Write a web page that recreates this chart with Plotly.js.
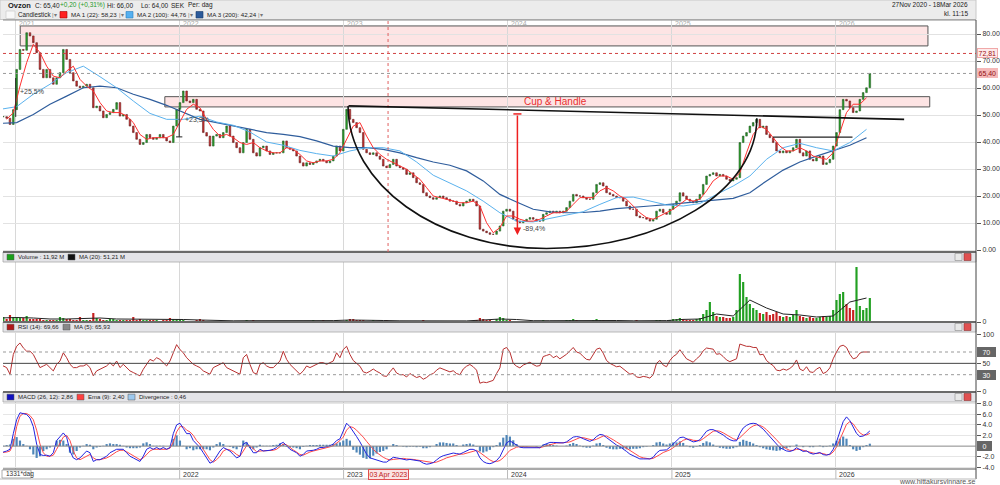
<!DOCTYPE html>
<html><head><meta charset="utf-8">
<script src="https://cdn.plot.ly/plotly-3.0.1.min.js"></script>
<style>html,body{margin:0;padding:0;background:#fff;}#chart{width:1000px;height:485px;}</style>
</head><body><div id="chart"></div>
<script>
// ---------------- DATA ----------------
const START_DATE = '2020-11-27';   // first sample
const STEP_DAYS = 7.42;            // sampling step of the reading grid
// weekly closes, samples 1..261
const closes = [49.4,48.8,46.5,52.0,66.9,74.3,74.0,80.5,79.3,76.8,73.1,66.9,63.8,66.9,63.8,61.4,63.8,65.7,74.3,70.6,65.7,62.6,60.7,60.1,60.7,61.4,60.1,52.7,53.3,51.5,49.0,50.2,50.9,52.1,54.6,49.6,50.2,48.4,45.9,43.5,41.0,39.1,39.8,42.8,41.6,41.0,41.6,42.8,41.6,40.4,39.8,45.9,52.1,54.6,58.9,55.2,54.6,55.8,52.1,51.5,43.5,42.2,38.5,42.2,42.8,41.6,43.5,45.9,42.2,39.8,37.9,36.0,39.8,44.7,41.0,36.0,34.8,37.9,38.5,36.7,35.4,36.0,36.0,36.0,40.4,37.9,37.3,36.7,34.8,32.3,31.1,32.3,31.7,32.3,33.0,33.6,33.0,32.3,33.0,34.8,38.5,36.7,44.7,52.1,48.4,47.2,45.3,43.5,37.3,36.0,35.4,36.0,34.8,33.6,31.1,30.5,31.7,33.6,31.1,30.5,29.9,28.0,28.6,26.8,24.9,24.3,21.2,20.0,19.4,18.8,19.4,20.0,
19.4,18.8,18.1,18.1,16.9,16.3,17.5,18.1,18.8,18.1,16.3,7.7,7.0,6.4,5.8,5.8,7.0,8.9,14.4,15.1,14.4,11.4,10.7,10.1,10.7,11.4,12.0,11.4,10.7,10.7,13.2,13.8,14.4,13.8,14.4,13.8,14.4,15.7,18.1,20.6,20.0,20.0,19.4,18.8,18.8,21.2,24.3,24.9,23.7,21.2,20.6,20.0,19.4,19.4,18.1,16.3,15.1,15.1,12.6,12.0,12.0,11.4,10.7,11.4,14.4,15.1,13.8,13.2,15.1,16.9,18.1,21.2,20.0,18.8,18.1,17.5,18.8,20.6,24.3,27.4,28.0,28.6,27.4,28.0,27.4,26.2,25.6,26.2,26.8,39.8,42.2,43.5,45.9,47.2,48.4,45.3,45.9,42.8,41.6,39.8,36.7,36.0,36.7,36.0,36.7,37.9,41.0,36.0,34.8,36.7,33.6,33.0,34.2,34.8,31.7,32.3,33.6,38.5,43.5,52.0,55.8,55.2,52.7,50.9,51.5,55.8,58.3,60.1,65.4];
// MA 1 (22) samples 2,4,...,260
const ma1 = [48.4,50.9,60.7,69.4,76.2,73.1,68.1,64.4,63.8,66.3,68.1,63.2,60.7,58.9,54.6,51.5,50.9,50.9,49.6,47.2,42.8,41.0,41.6,41.6,41.6,42.8,47.2,52.1,54.0,52.7,48.4,44.7,42.2,42.8,41.6,39.8,39.1,39.8,37.9,36.7,36.0,36.0,37.9,37.3,35.4,33.0,32.3,33.0,33.0,33.6,36.0,41.0,45.9,47.2,42.2,37.9,35.4,33.6,32.3,31.1,29.9,28.0,26.2,23.1,20.0,19.4,
18.8,18.1,17.5,17.5,18.1,16.3,10.1,6.4,8.3,12.6,12.6,11.4,10.7,10.7,11.4,12.6,13.8,13.8,14.4,16.9,19.4,19.4,19.4,21.9,23.1,21.9,20.0,18.8,16.3,13.8,12.0,11.4,12.6,13.8,15.1,16.9,18.8,18.1,18.8,21.9,25.6,27.4,27.4,26.2,28.6,36.0,42.8,45.9,44.7,41.6,38.5,36.7,36.7,37.9,36.7,34.8,34.2,33.6,36.0,43.5,50.9,54.0,54.0,56.4];
// MA 2 (100) and MA 3 (200), samples 0,5,...,260
const ma2 = [52.1,53.1,57.7,61.4,65.7,68.1,64.2,60.1,55.2,50.6,48.4,48.4,49.6,47.4,46.2,43.7,40.0,38.8,36.9,35.7,34.8,36.7,37.9,37.9,36.7,32.6,27.7,24.9,21.9,18.1,13.8,10.7,10.4,11.7,13.0,14.2,16.9,19.4,19.6,18.1,16.7,16.3,17.2,20.6,23.7,27.4,33.6,37.9,39.5,37.9,36.7,39.8,44.7];
const ma3 = [46.9,47.2,50.2,54.0,57.0,60.1,60.7,60.1,57.7,55.8,53.6,50.9,48.4,47.2,45.9,44.7,43.5,42.8,42.0,40.4,38.5,37.9,37.9,37.3,36.0,34.2,32.6,31.4,29.3,25.6,20.6,17.8,15.1,14.1,13.8,13.9,14.4,15.3,15.9,16.3,16.8,17.4,17.9,18.5,19.1,21.2,25.6,29.6,32.6,34.8,36.7,38.8,41.6];
// volume (M), samples 1..261
const volume = [5,3,7,5,5,4,4,6,3,3,3,3,2,2,2,2,2,5,4,3,3,2,2,5,2,2,2,9,4,3,2,2,3,3,2,2,2,2,2,5,2,3,2,2,2,2,2,1,2,2,4,3,3,2,2,1,1,1,2,3,2,1,1,1,1,1,1,1,1,1,1,1,1,2,1,2,1,1,1,1,1,1,1,1,1,1,1,1,1,1,1,1,1,2,1,1,2,1,1,1,2,1,1,2,3,
3,2,2,2,1,1,2,1,1,1,2,1,1,1,1,1,1,1,1,1,1,2,1,1,1,1,1,1,1,1,1,1,1,1,1,1,1,2,4,3,2,2,1,3,5,4,2,2,1,1,1,1,1,1,1,1,1,2,1,1,1,1,1,1,2,2,3,2,1,1,1,1,2,3,2,2,1,1,1,1,1,1,1,1,1,2,1,1,1,1,1,2,2,1,1,2,3,3,4,3,2,2,2,3,4,8,12,20,10,6,5,5,4,4,5,12,48,40,25,18,14,12,9,8,10,7,8,10,6,5,6,5,7,12,6,5,4,5,4,4,5,6,5,6,12,22,28,30,18,14,12,55,16,12,14,24];
// volume MA (20), samples 0,5,...,260
const volumeMA = [4,4.5,4,3,3,3.5,4,3,3,2.5,2.5,2.5,2,1.5,1.2,1.3,1.2,1.2,1.2,1.3,1.4,2,2,1.5,1.2,1.1,1.1,1.1,1.1,2,3,2.5,1.3,1.3,1.4,1.8,2,1.5,1.2,1.2,1.4,2.6,3,8,6,22,14,8,7,5,6,20,24];
// RSI (14), samples 0..261
const rsi = [48.3,45.4,42.5,30.9,65.7,80.1,85.9,77.2,71.4,71.4,65.7,54.1,42.5,45.4,48.3,42.5,36.7,48.3,54.1,68.6,59.9,48.3,42.5,42.5,45.4,45.4,48.3,42.5,28.0,36.7,39.6,42.5,45.4,51.2,45.4,54.1,42.5,48.3,42.5,36.7,33.8,30.9,28.0,39.6,48.3,57.0,54.1,59.9,57.0,51.2,45.4,54.1,68.6,83.0,74.3,68.6,59.9,54.1,48.3,45.4,42.5,36.7,33.8,30.9,42.5,45.4,48.3,51.2,42.5,39.6,36.7,33.8,30.9,59.9,65.7,48.3,33.8,30.9,48.3,51.2,45.4,42.5,42.5,48.3,54.1,71.4,57.0,48.3,42.5,36.7,30.9,36.7,45.4,42.5,45.4,48.3,51.2,51.2,48.3,51.2,54.1,68.6,59.9,74.3,80.1,65.7,
55,50,45,35,33,36,40,36,33,28,27,35,42,33,30,30,26,32,28,25,27,22,25,30,32,38,42,40,38,35,37,32,30,40,45,48,44,38,15,17,16,18,20,32,42,75,78,70,50,45,42,47,50,52,48,45,46,62,64,66,60,63,58,62,66,72,78,70,68,62,57,56,65,75,77,68,55,50,47,44,45,40,35,31,32,26,25,27,26,24,30,50,55,47,44,55,62,66,74,65,58,55,52,58,63,72,77,76,75,66,67,62,56,53,56,58,84,82,80,80,78,78,65,66,55,50,46,38,37,40,38,41,46,56,40,37,44,35,34,40,43,32,35,42,58,70,80,82,78,66,58,60,68,70,70,70];
// MACD (26,12), Ema (9), Divergence, samples 0..261
const macd = [-1.11,-1.11,-0.92,-0.59,2.35,4.97,6.27,6.14,5.95,5.29,3.66,0.39,-1.57,-1.76,-1.70,-1.90,-1.24,1.05,1.70,2.48,1.70,-0.92,-2.22,-2.55,-2.22,-1.57,-0.92,-1.24,-2.88,-2.55,-2.55,-2.22,-1.90,-1.24,-0.92,-0.59,-0.59,-0.59,-1.24,-1.90,-2.22,-2.55,-2.88,-1.90,-0.59,-0.26,-0.59,-0.26,-0.59,-0.26,-0.59,-0.26,2.35,3.99,4.31,3.33,2.35,2.35,1.05,0.39,-0.26,-1.24,-2.22,-3.20,-2.88,-1.90,-0.92,-0.26,-0.59,-0.92,-1.57,-2.22,-1.90,0.39,0.72,-0.26,-1.24,-1.24,-0.59,-0.92,-0.92,-0.78,-0.59,-0.26,0.39,0.72,0.07,-0.59,-0.92,-1.24,-1.90,-1.57,-0.92,-0.92,-0.78,-0.59,-0.26,-0.26,-0.13,0.07,0.39,1.05,1.37,3.01,4.31,3.66,
2.8,1.8,0.8,-0.5,-1.5,-2.2,-2.4,-2.6,-2.8,-3.0,-3.0,-2.6,-2.1,-2.2,-2.3,-2.4,-2.6,-2.5,-2.6,-2.8,-2.8,-3.2,-3.4,-3.3,-3.1,-2.6,-2.1,-1.8,-1.6,-1.5,-1.3,-1.4,-1.5,-1.2,-0.9,-0.6,-0.6,-0.9,-2.2,-2.9,-3.2,-3.3,-3.1,-2.7,-2.0,-0.6,0.6,1.0,0.6,0.2,-0.2,-0.3,-0.3,-0.2,-0.2,-0.3,-0.3,0.2,0.5,0.7,0.7,0.7,0.6,0.6,0.8,1.2,1.7,1.8,1.7,1.4,1.1,0.9,1.2,1.8,2.2,2.1,1.6,1.1,0.6,0.2,-0.1,-0.5,-1.0,-1.5,-1.8,-2.2,-2.4,-2.4,-2.4,-2.4,-2.1,-1.3,-0.8,-0.7,-0.7,-0.2,0.4,0.9,1.6,1.7,1.4,1.1,0.8,0.9,1.2,2.0,2.8,3.1,3.1,2.8,2.5,2.1,1.6,1.2,1.0,1.0,2.4,3.4,3.9,4.2,4.3,4.2,3.7,3.2,2.5,1.8,1.1,0.3,-0.3,-0.6,-0.9,-1.0,-0.8,-0.3,-0.6,-1.0,-0.9,-1.3,-1.5,-1.4,-1.2,-1.6,-1.7,-1.5,-0.6,0.8,2.6,4.6,5.5,4.8,3.6,2.4,1.8,1.9,2.3,2.86];
const signal = [-1.24,-1.24,-1.11,-0.92,0.39,3.66,5.62,6.14,6.14,5.75,4.97,3.01,0.39,-1.24,-1.90,-1.90,-1.70,-0.59,0.72,1.70,2.03,1.05,-0.92,-2.22,-2.55,-2.22,-1.90,-1.57,-2.22,-2.55,-2.55,-2.42,-2.22,-1.90,-1.44,-1.05,-0.78,-0.78,-1.05,-1.44,-1.90,-2.22,-2.55,-2.22,-1.57,-0.92,-0.59,-0.59,-0.59,-0.46,-0.59,-0.39,0.72,2.68,3.66,3.66,3.01,2.68,2.03,1.05,0.39,-0.59,-1.57,-2.55,-3.01,-2.55,-1.90,-0.92,-0.59,-0.72,-1.05,-1.57,-1.90,-0.92,0.07,0.07,-0.59,-1.05,-0.92,-0.92,-0.92,-0.92,-0.78,-0.59,-0.13,0.39,0.26,-0.26,-0.72,-1.11,-1.57,-1.70,-1.37,-1.11,-0.92,-0.78,-0.59,-0.39,-0.26,-0.13,0.07,0.52,1.05,1.70,3.01,3.66,
3.5,3.0,2.4,1.7,0.9,0.1,-0.6,-1.2,-1.7,-2.1,-2.4,-2.6,-2.5,-2.4,-2.3,-2.3,-2.4,-2.4,-2.5,-2.6,-2.7,-2.8,-3.0,-3.1,-3.1,-3.0,-2.8,-2.5,-2.2,-2.0,-1.8,-1.6,-1.5,-1.5,-1.3,-1.1,-0.9,-0.8,-1.2,-1.7,-2.2,-2.6,-2.9,-2.9,-2.7,-2.2,-1.5,-0.8,-0.5,-0.2,-0.1,-0.1,-0.2,-0.2,-0.2,-0.2,-0.3,-0.1,0.1,0.3,0.5,0.6,0.6,0.6,0.7,0.8,1.1,1.4,1.6,1.6,1.4,1.2,1.1,1.3,1.6,1.9,1.9,1.6,1.2,0.8,0.4,0.0,-0.4,-0.9,-1.3,-1.7,-2.0,-2.2,-2.3,-2.4,-2.3,-2.0,-1.6,-1.2,-1.0,-0.7,-0.3,0.2,0.7,1.1,1.3,1.3,1.1,1.0,1.0,1.4,1.9,2.4,2.8,2.9,2.8,2.5,2.1,1.7,1.4,1.2,1.6,2.2,2.9,3.4,3.8,4.0,3.9,3.6,3.1,2.5,1.9,1.2,0.5,-0.1,-0.5,-0.8,-0.8,-0.6,-0.6,-0.8,-0.9,-1.1,-1.3,-1.4,-1.3,-1.4,-1.6,-1.6,-1.1,-0.2,1.2,2.8,4.1,4.6,4.2,3.3,2.5,2.1,2.1,2.40];
const divergence = [0.07,0.07,0.2,0.3,1.37,1.70,1.05,0.39,0.07,-0.59,-1.57,-2.22,-1.90,-0.92,-0.59,-0.26,0.07,1.05,1.18,1.05,0.39,-1.24,-1.57,-0.92,-0.26,0.07,0.39,0.26,-0.59,-0.26,-0.13,0.07,0.39,0.52,0.39,0.39,0.26,0.07,-0.26,-0.39,-0.39,-0.39,-0.26,0.52,0.72,0.39,0.07,0.07,0.07,0.07,0.0,0.07,1.37,2.03,1.05,0.07,-0.59,-0.39,-0.78,-0.59,-0.59,-0.59,-0.59,-0.78,-0.26,0.39,0.72,0.39,0.0,-0.13,-0.39,-0.59,-0.13,1.05,0.72,-0.39,-0.59,-0.26,0.26,0.07,0.07,0.07,0.2,0.26,0.52,0.39,-0.13,-0.26,-0.26,-0.39,-0.59,-0.13,0.07,0.2,0.2,0.2,0.26,0.26,0.26,0.26,0.39,0.52,0.72,1.05,1.37,1.05,
-0.7,-1.2,-1.6,-2.2,-2.4,-2.3,-1.8,-1.4,-1.1,-0.9,-0.6,0.0,0.4,0.2,0.0,-0.1,-0.2,-0.1,-0.1,-0.2,-0.1,-0.4,-0.4,-0.2,0.0,0.4,0.7,0.7,0.6,0.5,0.5,0.2,0.0,0.3,0.4,0.5,0.3,-0.1,-1.0,-1.2,-1.0,-0.7,-0.2,0.2,0.7,1.6,2.1,1.8,1.1,0.4,-0.1,-0.2,-0.1,0.0,0.0,-0.1,0.0,0.3,0.4,0.4,0.2,0.1,0.0,0.0,0.1,0.4,0.6,0.4,0.1,-0.2,-0.3,-0.3,0.1,0.5,0.6,0.2,-0.3,-0.5,-0.6,-0.6,-0.5,-0.5,-0.6,-0.6,-0.5,-0.5,-0.4,-0.2,-0.1,0.0,0.2,0.7,0.8,0.5,0.3,0.5,0.7,0.7,0.9,0.6,0.1,-0.2,-0.3,-0.1,0.2,0.6,0.9,0.7,0.3,-0.1,-0.3,-0.4,-0.5,-0.5,-0.4,-0.2,0.8,1.2,1.0,0.8,0.5,0.2,-0.2,-0.4,-0.6,-0.7,-0.8,-0.9,-0.8,-0.5,-0.4,-0.2,0.0,0.3,0.0,-0.2,0.0,-0.2,-0.2,0.0,0.1,-0.2,-0.1,0.1,0.5,1.0,1.4,1.8,1.4,0.2,-0.6,-0.9,-0.7,-0.2,0.2,0.46];
const yearLabels = ['2021','2022','2023','2024','2025','2026'];
const priceTicks = [0,10,20,30,40,50,60,70,80];

// ---------------- helpers ----------------
const FONT = 'Liberation Sans, Arial, sans-serif';
const DAY = 86400000;
const t0 = Date.parse(START_DATE + 'T00:00:00Z');
const sampleDate = g => new Date(t0 + g * STEP_DAYS * DAY).toISOString().slice(0, 19);
const L = 3, R = 976, T = 20, B = 469;
const px = v => (v - L) / (R - L);
const py = v => (B - v) / (B - T);

const cDates = closes.map((_, i) => sampleDate(i + 1));
const opens = closes.map((c, i) => i === 0 ? c : closes[i - 1]);
const highs = closes.map((c, i) => Math.max(c, opens[i]));
const lows = closes.map((c, i) => Math.min(c, opens[i]));

const traces = [
  {type:'candlestick', x:cDates, open:opens, high:highs, low:lows, close:closes, xaxis:'x', yaxis:'y',
   increasing:{line:{color:'#2f5f2f', width:0.6}, fillcolor:'#25a025'},
   decreasing:{line:{color:'#6a2a2a', width:0.6}, fillcolor:'#cc2a2a'}, whiskerwidth:0, hoverinfo:'skip'},
  {type:'scatter', mode:'lines', x:ma3.map((_, i) => sampleDate(5 * i)), y:ma3, line:{color:'#2f5d9c', width:1.2}, xaxis:'x', yaxis:'y', hoverinfo:'skip'},
  {type:'scatter', mode:'lines', x:ma2.map((_, i) => sampleDate(5 * i)), y:ma2, line:{color:'#5ab2ee', width:1}, xaxis:'x', yaxis:'y', hoverinfo:'skip'},
  {type:'scatter', mode:'lines', x:ma1.map((_, i) => sampleDate(2 + 2 * i)), y:ma1, line:{color:'#ff3030', width:1}, xaxis:'x', yaxis:'y', hoverinfo:'skip'},
  {type:'bar', x:volume.map((_, i) => sampleDate(i + 1)), y:volume,
   marker:{color:volume.map((_, i) => closes[i] >= opens[i] ? '#22a022' : '#c82020'), line:{width:0}},
   xaxis:'x', yaxis:'y2', hoverinfo:'skip'},
  {type:'scatter', mode:'lines', x:volumeMA.map((_, i) => sampleDate(5 * i)), y:volumeMA, line:{color:'#222', width:1}, xaxis:'x', yaxis:'y2', hoverinfo:'skip'},
  {type:'scatter', mode:'lines', x:rsi.map((_, i) => sampleDate(i)), y:rsi, line:{color:'#b83030', width:1}, xaxis:'x', yaxis:'y3', hoverinfo:'skip'},
  {type:'bar', x:divergence.map((_, i) => sampleDate(i)), y:divergence, marker:{color:'#4f86b8', line:{width:0}}, xaxis:'x', yaxis:'y4', hoverinfo:'skip'},
  {type:'scatter', mode:'lines', x:signal.map((_, i) => sampleDate(i)), y:signal, line:{color:'#ff4a4a', width:1}, xaxis:'x', yaxis:'y4', hoverinfo:'skip'},
  {type:'scatter', mode:'lines', x:macd.map((_, i) => sampleDate(i)), y:macd, line:{color:'#2323e0', width:1}, xaxis:'x', yaxis:'y4', hoverinfo:'skip'}
];

// ---------------- decorations ----------------
const shapes = [];
const ann = [];
function box(x0, y0, x1, y1, fill, lineColor, lw, layer) {
  shapes.push({type:'rect', xref:'paper', yref:'paper', x0:px(x0), x1:px(x1), y0:py(y0), y1:py(y1),
    fillcolor:fill, line:{color:lineColor || 'rgba(0,0,0,0)', width:lw === undefined ? 1 : lw}, layer:layer || 'above'});
}
function hline(x0, x1, y, color, w, dash) {
  shapes.push({type:'line', xref:'paper', yref:'paper', x0:px(x0), x1:px(x1), y0:py(y), y1:py(y), line:{color, width:w, dash:dash || 'solid'}});
}
function vline(x, y0, y1, color, w) {
  shapes.push({type:'line', xref:'paper', yref:'paper', x0:px(x), x1:px(x), y0:py(y0), y1:py(y1), line:{color, width:w}});
}
function txt(x, y, text, o) {
  const a = {xref:'paper', yref:'paper', x:px(x), y:py(y), text, showarrow:false, xanchor:'left', yanchor:'middle',
    font:{family:FONT, size:6.5, color:'#222'}};
  if (o) { if (o.font) a.font = Object.assign({}, a.font, o.font); Object.keys(o).forEach(k => { if (k !== 'font') a[k] = o[k]; }); }
  ann.push(a);
}

// top header
box(0, 0, 976, 19.5, '#ececec', '#c8c8c8', 1);
txt(6, 5.5, '<b>Ovzon</b>', {font:{size:7.5}});
txt(33, 5.5, 'C: 65,40');
txt(58, 5.5, '+0,20 (+0,31%)', {font:{color:'#1f9a1f'}});
txt(105, 5.5, 'Hi: 66,00');
txt(139, 5.5, 'Lo: 64,00');
txt(169, 5.5, 'SEK');
txt(186, 5.5, 'Per: dag');
txt(970, 5, '27Nov 2020 - 18Mar 2026', {xanchor:'right', font:{size:6.5}});
txt(970, 13.5, 'kl. 11:15', {xanchor:'right', font:{size:6.5}});
box(6, 11, 15, 18.5, '#f8f8f8', '#cfcfcf', 0.8);
txt(16, 15, 'Candlestick', {font:{size:6.3}});
box(60, 11.5, 67, 18, '#ff2020', '#aa0000', 0.6);
txt(69, 15, 'MA 1 (22): 58,23', {font:{size:6.2}});
box(126, 11.5, 133, 18, '#55b0f0', '#2a80c0', 0.6);
txt(135, 15, 'MA 2 (100): 44,76', {font:{size:6.2}});
box(196, 11.5, 203, 18, '#2c5a9a', '#1a3a6a', 0.6);
txt(205, 15, 'MA 3 (200): 42,24', {font:{size:6.2}});
[50, 116.5, 186, 256].forEach(x => txt(x, 15, '|▾', {font:{size:6, color:'#777'}}));

// panel header bars
function panelHeader(y0, items) {
  box(3, y0, 976, y0 + 10, '#e4e4e8', '#a8a8a8', 0.8);
  hline(3, 976, y0, '#6a6a6a', 2);
  items.forEach(it => {
    box(it.x, y0 + 2.2, it.x + 7, y0 + 8, it.c, '#555', 0.5);
    txt(it.x + 9, y0 + 5.2, it.t, {font:{size:6}});
  });
  box(955, y0 + 1.5, 962, y0 + 8.5, '#e8e8e8', '#8a8a8a', 0.6);
  box(964, y0 + 1.5, 971, y0 + 8.5, '#e05050', '#903030', 0.6);
}
panelHeader(252, [{x:7, c:'#1aa01a', t:'Volume : 11,92 M'}, {x:68, c:'#111', t:'MA (20): 51,21 M'}]);
panelHeader(322, [{x:7, c:'#b01818', t:'RSI (14): 69,66'}, {x:63, c:'#888', t:'MA (5): 65,93'}]);
panelHeader(392, [{x:7, c:'#1010c0', t:'MACD (26, 12): 2,86'}, {x:77, c:'#ff4040', t:'Ema (9): 2,40'}, {x:128, c:'#9cc8ee', t:'Divergence : 0,46'}]);

// frame lines
hline(3, 976, 20, '#8a8a8a', 1);
vline(976, 20, 479, '#444', 1);
hline(3, 976, 469, '#555', 1);
hline(0, 976, 479, '#bbb', 1);

// bottom axis row
box(2, 470, 31, 478, '#ffffff', '#999', 0.8);
txt(4, 474.3, '1331*dag', {font:{size:6.5, color:'#333'}});
const yearX = yearLabels.map(y => y + '-01-01');
yearLabels.forEach((y, i) => {
  if (i > 0) {
    ann.push({xref:'x', yref:'paper', x:yearX[i], y:py(474.3), text:y, showarrow:false, xanchor:'left', yanchor:'middle', xshift:1, font:{family:FONT, size:7, color:'#333'}});
    shapes.push({type:'line', xref:'x', yref:'paper', x0:yearX[i], x1:yearX[i], y0:py(469), y1:py(479), line:{color:'#bbb', width:1}});
  }
  ann.push({xref:'x', yref:'paper', x:yearX[i], y:py(23.5), text:y, showarrow:false, xanchor:'left', yanchor:'middle', xshift:1, font:{family:FONT, size:7, color:'#aaa'}});
});
ann.push({xref:'x', yref:'paper', x:'2023-04-10', y:py(474), text:'03 Apr 2023', showarrow:false, xanchor:'center', yanchor:'middle',
  bgcolor:'#fbe3e3', bordercolor:'#e05050', borderwidth:1, borderpad:0.5, font:{family:FONT, size:7, color:'#c02020'}});
txt(978, 482, 'www.hittakursvinnare.se', {xanchor:'right', font:{size:7, color:'#555'}});

// main panel annotations
shapes.push({type:'rect', xref:'x', yref:'y', x0:'2021-01-11', x1:'2026-07-25', y0:75.6, y1:83.0, fillcolor:'rgba(252,205,205,0.55)', line:{color:'#555', width:1}, layer:'below'});
shapes.push({type:'rect', xref:'x', yref:'y', x0:'2021-11-29', x1:'2026-07-29', y0:53.0, y1:56.8, fillcolor:'rgba(252,205,205,0.55)', line:{color:'#555', width:1}, layer:'below'});
shapes.push({type:'line', xref:'paper', yref:'y', x0:0, x1:1, y0:72.81, y1:72.81, line:{color:'#d04040', width:1, dash:'dot'}});
shapes.push({type:'line', xref:'paper', yref:'y', x0:0, x1:1, y0:65.40, y1:65.40, line:{color:'#999', width:1, dash:'dot'}});
shapes.push({type:'line', xref:'x', yref:'paper', x0:'2023-04-10', x1:'2023-04-10', y0:py(252), y1:py(20), line:{color:'#e06060', width:1, dash:'dot'}});
shapes.push({type:'path', xref:'x', yref:'y', path:'M 2023-01-11,53.3 C 2023-01-11,24.2 2023-07-28,0.56 2024-03-28,0.56 C 2024-12-12,0.56 2025-07-09,22.1 2025-07-09,48.8', line:{color:'#111', width:1.6}});
shapes.push({type:'line', xref:'x', yref:'y', x0:'2023-01-12', y0:53.4, x1:'2026-06-02', y1:48.4, line:{color:'#111', width:1.6}});
shapes.push({type:'line', xref:'x', yref:'y', x0:'2025-08-14', y0:41.8, x1:'2026-02-07', y1:41.8, line:{color:'#222', width:1.4}});
shapes.push({type:'line', xref:'x', yref:'y', x0:'2021-01-01', y0:49.3, x1:'2021-01-01', y1:63.7, line:{color:'#222', width:1}});
shapes.push({type:'line', xref:'x', yref:'y', x0:'2021-12-31', y0:41.9, x1:'2021-12-31', y1:52.6, line:{color:'#222', width:1}});
shapes.push({type:'line', xref:'x', yref:'y', x0:'2021-12-24', y0:41.9, x1:'2022-01-07', y1:41.9, line:{color:'#222', width:1}});
shapes.push({type:'line', xref:'x', yref:'y', x0:'2024-01-14', y0:50.4, x1:'2024-02-01', y1:50.4, line:{color:'#ee2020', width:1.5}});
ann.push({xref:'x', yref:'y', x:'2024-01-23', y:5.6, ax:'2024-01-23', ay:50.4, axref:'x', ayref:'y', text:'', showarrow:true,
  arrowhead:2, arrowsize:1, arrowwidth:1.5, arrowcolor:'#ee2020'});
ann.push({xref:'x', yref:'y', x:'2024-04-17', y:55.0, text:'Cup & Handle', showarrow:false, font:{family:FONT, size:10, color:'#e83030'}});
ann.push({xref:'x', yref:'y', x:'2021-01-06', y:58.9, text:'+25,5%', showarrow:false, xanchor:'left', font:{family:FONT, size:7, color:'#444'}});
ann.push({xref:'x', yref:'y', x:'2022-01-08', y:48.5, text:'+23,3%', showarrow:false, xanchor:'left', font:{family:FONT, size:7, color:'#444'}});
ann.push({xref:'x', yref:'y', x:'2024-02-01', y:7.8, text:'-89,4%', showarrow:false, xanchor:'left', font:{family:FONT, size:7, color:'#444'}});
// price tags on the right axis
ann.push({xref:'paper', yref:'y', x:px(977), y:72.81, text:'72,81', showarrow:false, xanchor:'left', bgcolor:'#fdeaea', bordercolor:'#f0a8a8', borderwidth:1, borderpad:0.5, font:{family:FONT, size:7, color:'#a01010'}});
ann.push({xref:'paper', yref:'y', x:px(977), y:65.40, text:'65,40', showarrow:false, xanchor:'left', bgcolor:'#f5b8b8', bordercolor:'#f5b8b8', borderwidth:1, borderpad:0.5, font:{family:FONT, size:7, color:'#901010'}});
// RSI / MACD tags
[['70', 70, 'y3'], ['30', 30, 'y3'], ['0', 0, 'y4']].forEach(t => {
  ann.push({xref:'paper', yref:t[2], x:px(977), y:t[1], text:'&nbsp;&nbsp;' + t[0] + '&nbsp;&nbsp;', showarrow:false, xanchor:'left', bgcolor:'#666', bordercolor:'#666', borderwidth:1, borderpad:0.5, font:{family:FONT, size:7, color:'#fff'}});
});
// RSI / MACD reference lines
shapes.push({type:'line', xref:'paper', yref:'y3', x0:0, x1:1, y0:70, y1:70, line:{color:'#999', width:1, dash:'dot'}});
shapes.push({type:'line', xref:'paper', yref:'y3', x0:0, x1:1, y0:30, y1:30, line:{color:'#999', width:1, dash:'dot'}});
shapes.push({type:'line', xref:'paper', yref:'y3', x0:0, x1:1, y0:50, y1:50, line:{color:'#444', width:1}});
shapes.push({type:'line', xref:'paper', yref:'y4', x0:0, x1:1, y0:0, y1:0, line:{color:'#888', width:1}});

const axFont = {family:FONT, size:7, color:'#333'};
const yBase = {side:'right', showline:false, zeroline:false, ticks:'outside', ticklen:4, tickcolor:'#555', tickfont:axFont, fixedrange:true};
const layout = {
  width:1000, height:485, margin:{l:L, r:1000 - R, t:T, b:485 - B},
  paper_bgcolor:'#fff', plot_bgcolor:'#fff', showlegend:false, bargap:0.35,
  font:{family:FONT, size:7},
  xaxis:{type:'date', range:['2020-12-03 17:00', '2026-11-09'], anchor:'y4', showticklabels:false, ticks:'',
    tickvals:yearX, showgrid:true, gridcolor:'#d8d8d8', gridwidth:1, zeroline:false, showline:false, rangeslider:{visible:false}, fixedrange:true},
  yaxis:Object.assign({}, yBase, {domain:[py(252), py(20)], range:[-0.74, 85.2], tickvals:priceTicks, ticktext:priceTicks.map(v => v.toFixed(2)), showgrid:true, gridcolor:'#e2e2e2'}),
  yaxis2:Object.assign({}, yBase, {domain:[py(322), py(262)], range:[0, 60], tickvals:[0], ticktext:['0'], showgrid:false}),
  yaxis3:Object.assign({}, yBase, {domain:[py(392), py(333)], range:[-0.5, 103.5], tickvals:[0, 50, 100], ticktext:['0', '50', '100'], showgrid:false}),
  yaxis4:Object.assign({}, yBase, {domain:[py(469), py(402)], range:[-4.3, 8.3], tickvals:[-4, -2, 2, 4, 6, 8], ticktext:['-4.0', '-2.0', '2.0', '4.0', '6.0', '8.0'], showgrid:true, gridcolor:'#e6e6e6'}),
  shapes, annotations:ann
};
Plotly.newPlot('chart', traces, layout, {staticPlot:true, displayModeBar:false});
</script></body></html>
